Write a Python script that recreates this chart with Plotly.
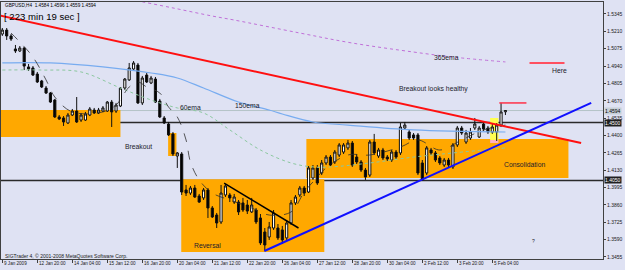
import plotly.graph_objects as go

# ---------------- data ----------------
opens = [1.5189,1.5220,1.5174,1.5073,1.5057,1.5080,1.4933,1.4925,1.4878,1.4824,
         1.4769,1.4730,1.4676,1.4544,1.4536,1.4497,1.4559,1.4590,1.4520,1.4520,
         1.4559,1.4598,1.4575,1.4590,1.4590,1.4660,1.4590,1.4629,1.4769,1.4832,
         1.4917,1.4948,1.4653,1.4870,1.4808,1.4839,1.4668,1.4536,1.4489,1.4412,
         1.4240,1.4256,1.3976,1.3952,1.3991,1.3929,1.3914,1.3976,1.3836,1.3781,
         1.3727,1.3937,1.3937,1.3882,1.3882,1.3875,1.3859,1.3805,1.3820,1.3758,
         1.3649,1.3610,1.3680,1.3680,1.3665,1.3603,1.3719,1.3875,1.3937,1.3991,
         1.3960,1.4069,1.4147,1.4108,1.4186,1.4232,1.4194,1.4248,1.4271,1.4303,
         1.4341,1.4232,1.4194,1.4131,1.4092,1.4349,1.4240,1.4287,1.4232,1.4209,
         1.4271,1.4264,1.4458,1.4427,1.4404,1.4404,1.4186,1.4108,1.4287,1.4264,
         1.4225,1.4170,1.4209,1.4155,1.4326,1.4458,1.4349,1.4380,1.4458,1.4388,
         1.4489,1.4458,1.4427,1.4427,1.4481,1.4584]
highs = [1.5236,1.5236,1.5189,1.5104,1.5096,1.5088,1.4956,1.4940,1.4894,1.4832,
         1.4785,1.4738,1.4684,1.4559,1.4551,1.4575,1.4606,1.4699,1.4575,1.4583,
         1.4621,1.4614,1.4614,1.4629,1.4668,1.4676,1.4653,1.4777,1.4847,1.4964,
         1.4979,1.4964,1.4863,1.4886,1.4863,1.4855,1.4684,1.4551,1.4505,1.4427,
         1.4271,1.4271,1.4015,1.4007,1.4015,1.3945,1.3991,1.3991,1.3851,1.3797,
         1.4015,1.4023,1.3952,1.3945,1.3898,1.3914,1.3898,1.3914,1.3836,1.3789,
         1.3680,1.3727,1.3820,1.3711,1.3696,1.3742,1.3898,1.3937,1.4007,1.4007,
         1.4162,1.4170,1.4170,1.4209,1.4248,1.4248,1.4287,1.4341,1.4341,1.4365,
         1.4357,1.4256,1.4209,1.4147,1.4365,1.4412,1.4303,1.4303,1.4248,1.4287,
         1.4287,1.4497,1.4505,1.4443,1.4419,1.4419,1.4209,1.4318,1.4303,1.4279,
         1.4240,1.4225,1.4225,1.4341,1.4474,1.4474,1.4443,1.4458,1.4536,1.4474,
         1.4505,1.4474,1.4489,1.4497,1.4653,1.4596]
lows = [1.5174,1.5143,1.5135,1.5042,1.5049,1.4909,1.4902,1.4863,1.4808,1.4769,
        1.4723,1.4653,1.4536,1.4520,1.4474,1.4489,1.4551,1.4497,1.4505,1.4513,
        1.4551,1.4567,1.4567,1.4583,1.4583,1.4466,1.4575,1.4621,1.4754,1.4824,
        1.4909,1.4645,1.4637,1.4808,1.4800,1.4653,1.4536,1.4489,1.4396,1.4240,
        1.4147,1.3937,1.3929,1.3937,1.3914,1.3875,1.3898,1.3758,1.3758,1.3680,
        1.3711,1.3921,1.3882,1.3867,1.3781,1.3805,1.3789,1.3797,1.3711,1.3548,
        1.3501,1.3587,1.3665,1.3587,1.3556,1.3587,1.3704,1.3859,1.3921,1.3929,
        1.3952,1.4054,1.4015,1.4092,1.4170,1.4162,1.4178,1.4232,1.4256,1.4287,
        1.4155,1.4178,1.4116,1.4054,1.4077,1.4248,1.4225,1.4209,1.4201,1.4194,
        1.4217,1.4248,1.4443,1.4365,1.4365,1.4092,1.4046,1.4092,1.4248,1.4194,
        1.4170,1.4155,1.4147,1.4139,1.4310,1.4404,1.4334,1.4365,1.4443,1.4380,
        1.4435,1.4412,1.4412,1.4357,1.4466,1.4559]
closes = [1.5220,1.5174,1.5150,1.5057,1.5080,1.4940,1.4917,1.4870,1.4816,1.4777,
          1.4730,1.4660,1.4544,1.4528,1.4505,1.4559,1.4590,1.4505,1.4559,1.4567,
          1.4606,1.4575,1.4598,1.4614,1.4660,1.4583,1.4637,1.4769,1.4839,1.4925,
          1.4964,1.4653,1.4847,1.4816,1.4847,1.4660,1.4544,1.4497,1.4404,1.4256,
          1.4264,1.3960,1.3952,1.3991,1.3921,1.3882,1.3976,1.3836,1.3766,1.3719,
          1.3952,1.4007,1.3914,1.3921,1.3805,1.3820,1.3812,1.3859,1.3727,1.3564,
          1.3548,1.3688,1.3797,1.3603,1.3587,1.3719,1.3875,1.3921,1.3991,1.3952,
          1.4147,1.4147,1.4030,1.4186,1.4232,1.4170,1.4271,1.4326,1.4326,1.4341,
          1.4170,1.4194,1.4131,1.4077,1.4349,1.4264,1.4287,1.4225,1.4217,1.4271,
          1.4232,1.4466,1.4481,1.4380,1.4380,1.4108,1.4054,1.4303,1.4264,1.4209,
          1.4186,1.4209,1.4170,1.4326,1.4458,1.4419,1.4419,1.4427,1.4489,1.4458,
          1.4450,1.4427,1.4466,1.4481,1.4583,1.4594]
bars = list(range(len(opens)))

# x-axis labels (bar index of each label)
xlab_idx = [0, 8, 16, 24, 32, 40, 48, 56, 64, 72, 80, 88, 96, 104, 112]
xlab_txt = ["9 Jan 2009", "12 Jan 20:00", "14 Jan 04:00", "15 Jan 12:00", "16 Jan 20:00",
            "20 Jan 04:00", "21 Jan 12:00", "22 Jan 20:00", "26 Jan 04:00", "27 Jan 12:00",
            "28 Jan 20:00", "30 Jan 04:00", "2 Feb 12:00", "3 Feb 20:00", "5 Feb 04:00"]
# price axis labels
ytick_vals = [1.5345, 1.5210, 1.5075, 1.4940, 1.4805, 1.4670, 1.4535, 1.4400,
              1.4265, 1.4130, 1.3995, 1.3860, 1.3725, 1.3590, 1.3455]

# moving averages
ema150_x = [0, 11, 23, 34, 40, 46, 54, 61, 64, 71, 79, 94, 115]
ema150_y = [1.4964, 1.4964, 1.4933, 1.4886, 1.4847, 1.4769, 1.4660, 1.4598, 1.4567,
            1.4505, 1.4481, 1.4443, 1.4427]
ema60_x = [0, 9, 18, 27, 34, 40, 46, 52, 59, 66, 71, 75, 84, 94, 103, 115]
ema60_y = [1.4909, 1.4909, 1.4894, 1.4769, 1.4676, 1.4614, 1.4575, 1.4443, 1.4287,
           1.4186, 1.4155, 1.4155, 1.4186, 1.4232, 1.4264, 1.4303]
ema365_x = [28, 30, 39, 48, 53, 68, 80, 94, 103, 115]
ema365_y = [1.5470, 1.5454, 1.5392, 1.5329, 1.5298, 1.5197, 1.5119, 1.5049, 1.5010, 1.4972]
emafast_x = [2, 4, 7, 10, 12, 16, 23, 26, 29, 31, 33, 36, 38, 40, 42, 43, 45, 48, 52, 57,
             61, 66, 69, 71, 74, 79, 84, 91, 95, 100, 105, 110, 115]
emafast_y = [1.5197, 1.5127, 1.5010, 1.4832, 1.4699, 1.4583, 1.4583, 1.4637, 1.4777,
             1.4816, 1.4777, 1.4730, 1.4621, 1.4544, 1.4365, 1.4194, 1.4054, 1.3952,
             1.3898, 1.3836, 1.3781, 1.3805, 1.3960, 1.4038, 1.4147, 1.4248, 1.4248,
             1.4310, 1.4365, 1.4287, 1.4365, 1.4443, 1.4481]

# drawn objects: rectangles (bar from, bar to, price top, price bottom)
box_a = [-0.5, 27.0, 1.4598, 1.4388]
box_b = [37.9, 39.8, 1.4419, 1.4240]
box_c = [40.9, 73.6, 1.4060, 1.3493]
box_d = [69.5, 129.4, 1.4373, 1.4069]
box_y = [111.5, 113.4, 1.4536, 1.4365]
box_p = [111.5, 113.4, 1.4365, 1.4341]
# trend lines (bar0, price0, bar1, price1)
red_trend = [-0.5, 1.5332, 132.3, 1.4341]
blue_trend = [59.9, 1.3501, 134.6, 1.4653]
black_trend = [50.7, 1.4030, 67.7, 1.3680]
here_line = [120.5, 128.5, 1.4964]
high_line = [113.6, 119.8, 1.4653]
hlines = [1.4500, 1.4050]
bid = 1.4594

BG = "#dfe2f3"
FONT = "Liberation Sans"

fig = go.Figure()

def rect(b, color, op=1.0):
    fig.add_shape(type="rect", x0=b[0], x1=b[1], y0=b[3], y1=b[2], xref="x", yref="y",
                  fillcolor=color, opacity=op, line=dict(width=0), layer="below")

rect(box_a, "#ffa800")
rect(box_b, "#ffa800")
rect(box_c, "#ffa800")
rect(box_d, "#ffa800")
rect(box_y, "#ffff50")
rect(box_p, "#ffb0c0")

# horizontal lines
fig.add_shape(type="line", x0=0, x1=1, xref="paper", y0=bid, y1=bid, yref="y",
              line=dict(color="#b4c4c8", width=1), layer="below")
for h in hlines:
    fig.add_shape(type="line", x0=0, x1=1, xref="paper", y0=h, y1=h, yref="y",
                  line=dict(color="#2a2a2a", width=1.5), layer="below")

# moving averages
fig.add_trace(go.Scatter(x=ema365_x, y=ema365_y, mode="lines", line=dict(color="#c070d8", width=1, dash="dot", shape="spline"), hoverinfo="skip"))
fig.add_trace(go.Scatter(x=ema150_x, y=ema150_y, mode="lines", line=dict(color="#78acf0", width=1.2, shape="spline"), hoverinfo="skip"))
fig.add_trace(go.Scatter(x=ema60_x, y=ema60_y, mode="lines", line=dict(color="#8cc8a0", width=1, dash="dot", shape="spline"), hoverinfo="skip"))
fig.add_trace(go.Scatter(x=emafast_x, y=emafast_y, mode="lines", line=dict(color="#303030", width=0.8, dash="dash", shape="spline"), hoverinfo="skip"))

fig.add_trace(go.Candlestick(
    x=bars, open=opens, high=highs, low=lows, close=closes,
    increasing=dict(line=dict(color="#101010", width=1), fillcolor="#ffffff"),
    decreasing=dict(line=dict(color="#101010", width=1), fillcolor="#000000"),
    whiskerwidth=0, hoverinfo="skip"))

# trend lines
def seg(t, color, w):
    fig.add_shape(type="line", x0=t[0], y0=t[1], x1=t[2], y1=t[3], xref="x", yref="y",
                  line=dict(color=color, width=w), layer="above")

seg(red_trend, "#ff1010", 2)
seg(blue_trend, "#1010ff", 2)
seg(black_trend, "#000000", 1.5)
fig.add_shape(type="line", x0=here_line[0], x1=here_line[1], y0=here_line[2], y1=here_line[2],
              xref="x", yref="y", line=dict(color="#ff5060", width=2))
fig.add_shape(type="line", x0=high_line[0], x1=high_line[1], y0=high_line[2], y1=high_line[2],
              xref="x", yref="y", line=dict(color="#ff3048", width=1.5))

ann = []
def txt(x, y, s, size=6.8, color="#1c1c2c"):
    ann.append(dict(x=x, y=y, xref="x", yref="y", text=s, showarrow=False,
                    font=dict(family=FONT, size=size, color=color), xanchor="center", yanchor="middle"))

txt(101.6, 1.5003, "365ema")
txt(127.3, 1.4905, "Here")
txt(98.5, 1.4762, "Breakout looks healthy")
txt(43.0, 1.4618, "60ema")
txt(56.0, 1.4637, "150ema")
txt(31.1, 1.4318, "Breakout")
txt(46.9, 1.3545, "Reversal")
txt(119.3, 1.4178, "Consolidation")
txt(121.4, 1.3579, "?", size=5)

# time labels below the axis, starting at each tick (MT4 style)
for xi, s in zip(xlab_idx, xlab_txt):
    ann.append(dict(x=xi, y=0, xref="x", yref="paper", text=s, showarrow=False,
                    xanchor="left", yanchor="top", xshift=1, yshift=-1, borderpad=0,
                    font=dict(family=FONT, size=4.6, color="#202020")))

# header texts
ann.append(dict(x=0.003, y=0.988, xref="paper", yref="paper", text="GBPUSD,H4  1.4584 1.4596 1.4559 1.4594",
                showarrow=False, xanchor="left", yanchor="middle", font=dict(family=FONT, size=4.7, color="#000000")))
ann.append(dict(x=0.0015, y=0.942, xref="paper", yref="paper", text="[ 223 min 19 sec ]",
                showarrow=False, xanchor="left", yanchor="middle", font=dict(family=FONT, size=9.6, color="#000000")))
ann.append(dict(x=0.004, y=0.012, xref="paper", yref="paper", text="SIGTrader 4, © 2001-2008 MetaQuotes Software Corp.",
                showarrow=False, xanchor="left", yanchor="middle", font=dict(family=FONT, size=5, color="#202020")))

# highlighted price labels on the axis
def plabel(v, bg, fg):
    ann.append(dict(x=1.0, y=v, xref="paper", yref="y", text=f"{v:.4f}", showarrow=False,
                    xanchor="left", yanchor="middle", bgcolor=bg, font=dict(family=FONT, size=5, color=fg),
                    borderpad=0, xshift=1))

plabel(bid, "#c8d0d8", "#000000")
plabel(hlines[0], "#202020", "#ffffff")
plabel(hlines[1], "#202020", "#ffffff")

fig.update_layout(
    width=625, height=270, margin=dict(l=1, r=22, t=2, b=11),
    paper_bgcolor=BG, plot_bgcolor=BG, showlegend=False, annotations=ann,
    xaxis=dict(range=[-0.3, 137.3], rangeslider=dict(visible=False), showgrid=False, zeroline=False,
               tickmode="array", tickvals=xlab_idx, showticklabels=False, ticks="outside", ticklen=3,
               tickcolor="#404040",
               showline=True, linecolor="#404040", linewidth=1, mirror=True, automargin=False, fixedrange=True),
    yaxis=dict(range=[1.34389, 1.54383], side="right", showgrid=False, zeroline=False,
               tickmode="array", tickvals=ytick_vals, ticktext=[f"{v:.4f}" for v in ytick_vals],
               ticks="outside", ticklen=2, tickcolor="#404040",
               tickfont=dict(family=FONT, size=5, color="#202020"),
               showline=True, linecolor="#404040", linewidth=1, mirror=True, automargin=False, fixedrange=True),
)

fig.write_html("out.html")
